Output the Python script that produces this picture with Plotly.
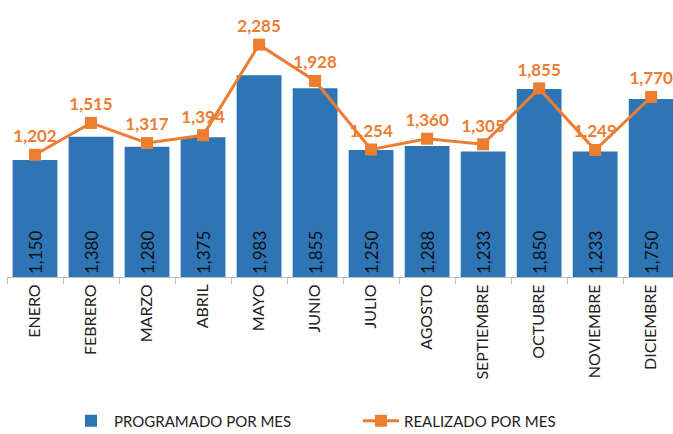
import plotly.graph_objects as go

months = ["ENERO", "FEBRERO", "MARZO", "ABRIL", "MAYO", "JUNIO", "JULIO",
          "AGOSTO", "SEPTIEMBRE", "OCTUBRE", "NOVIEMBRE", "DICIEMBRE"]
programado = [1150, 1380, 1280, 1375, 1983, 1855, 1250, 1288, 1233, 1850, 1233, 1750]
realizado = [1202, 1515, 1317, 1394, 2285, 1928, 1254, 1360, 1305, 1855, 1249, 1770]

BLUE = "#2E75B6"
ORANGE = "#ED7D31"
FONT = "Lato"

fig = go.Figure()
fig.add_trace(go.Bar(
    x=months, y=programado, name="PROGRAMADO POR MES",
    marker=dict(color=BLUE, line=dict(width=0)),
    text=[f"{v:,}" for v in programado],
    textposition="inside", insidetextanchor="start", textangle=-90,
    textfont=dict(family=FONT, size=17, color="#111111"),
    constraintext="none", legend="legend",
))
fig.add_trace(go.Scatter(
    x=months, y=realizado, name="REALIZADO POR MES",
    mode="lines+markers+text",
    line=dict(color=ORANGE, width=3),
    marker=dict(symbol="square", size=12, color=ORANGE),
    text=[f"{v:,}" for v in realizado],
    textposition="top center",
    textfont=dict(family=FONT, size=17, color=ORANGE, weight="bold"),
    cliponaxis=False, legend="legend2",
))

legend_common = dict(
    orientation="h", xref="container", yref="container",
    y=0.03, xanchor="left", yanchor="middle",
    font=dict(family=FONT, size=15, color="#222222"),
    itemwidth=36, bgcolor="rgba(0,0,0,0)",
)

fig.update_layout(
    width=673, height=434,
    margin=dict(l=7, r=0, t=0, b=157),
    plot_bgcolor="white", paper_bgcolor="white",
    bargap=0.2,
    font=dict(family=FONT, size=14, color="#333333"),
    xaxis=dict(
        range=[-0.5, 11.39], tickangle=-90, showline=True, linecolor="#BFBFBF",
        linewidth=1, ticks="outside", tickson="boundaries", ticklen=6,
        tickcolor="#BFBFBF", showgrid=False, automargin=False,
        tickfont=dict(family=FONT, size=16, color="#222222"),
    ),
    yaxis=dict(range=[0, 2724], visible=False, showgrid=False, automargin=False),
    showlegend=True,
    legend=dict(x=68 / 673, **legend_common),
    legend2=dict(x=358 / 673, **legend_common),
)

fig.write_html("out.html", post_script="document.body.style.margin='0';",
               config={"displayModeBar": False})
